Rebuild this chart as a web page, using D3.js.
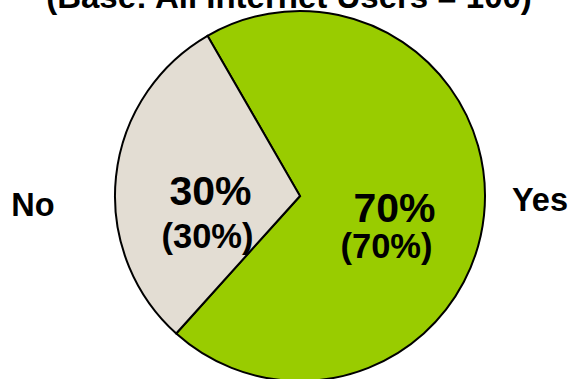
<!DOCTYPE html>
<html>
<head>
<meta charset="utf-8">
<script src="https://cdn.jsdelivr.net/npm/d3@7"></script>
<style>
  html, body { margin: 0; padding: 0; background: #fff; }
  svg text { font-family: "Liberation Sans", Arial, sans-serif; font-weight: bold; fill: #000; }
</style>
</head>
<body>
<svg id="chart" width="569" height="379"></svg>
<script>
// Survey answers and their shares
const categories = ["Yes", "No"];
const shares = [70, 30];
const shareLabels = ["70%", "30%"];
const baseLabels = ["(70%)", "(30%)"];
const title = "(Base: All Internet Users = 100)";
const colors = ["#99cc00", "#e3ddd3"];

const svg = d3.select("#chart");
const cx = 300, cy = 196, R = 185;

svg.append("text")
  .attr("x", 289).attr("y", 8)
  .attr("text-anchor", "middle")
  .style("font-size", "33px")
  .text(title);

const pie = d3.pie().sort(null)
  .startAngle(-Math.PI / 6)
  .endAngle(2 * Math.PI - Math.PI / 6);
const arcs = pie(shares);
const arc = d3.arc().innerRadius(0).outerRadius(R);
const labelArc = d3.arc().innerRadius(91).outerRadius(91);

const g = svg.append("g").attr("transform", `translate(${cx},${cy})`);

g.selectAll("path").data(arcs).join("path")
  .attr("d", arc)
  .attr("fill", (d, i) => colors[i])
  .attr("stroke", "#000")
  .attr("stroke-width", 2)
  .attr("stroke-linejoin", "miter");

// Per-slice offsets of the two text lines from the slice centroid
const lineOffsets = [[16, 52], [18, 62]];
const xOffsets = [[4, -4], [1, -2]];

arcs.forEach((d, i) => {
  const [x, y] = labelArc.centroid(d);
  g.append("text")
    .attr("x", x + xOffsets[i][0]).attr("y", y + lineOffsets[i][0])
    .attr("text-anchor", "middle")
    .style("font-size", "41px")
    .text(shareLabels[i]);
  g.append("text")
    .attr("x", x + xOffsets[i][1]).attr("y", y + lineOffsets[i][1])
    .attr("text-anchor", "middle")
    .style("font-size", "34.5px")
    .text(baseLabels[i]);
});

// Category names on either side of the pie
const catX = [540, 33];
const catY = [211, 216];
categories.forEach((c, i) => {
  svg.append("text")
    .attr("x", catX[i]).attr("y", catY[i])
    .attr("text-anchor", "middle")
    .style("font-size", "32.5px")
    .text(c);
});
</script>
</body>
</html>
